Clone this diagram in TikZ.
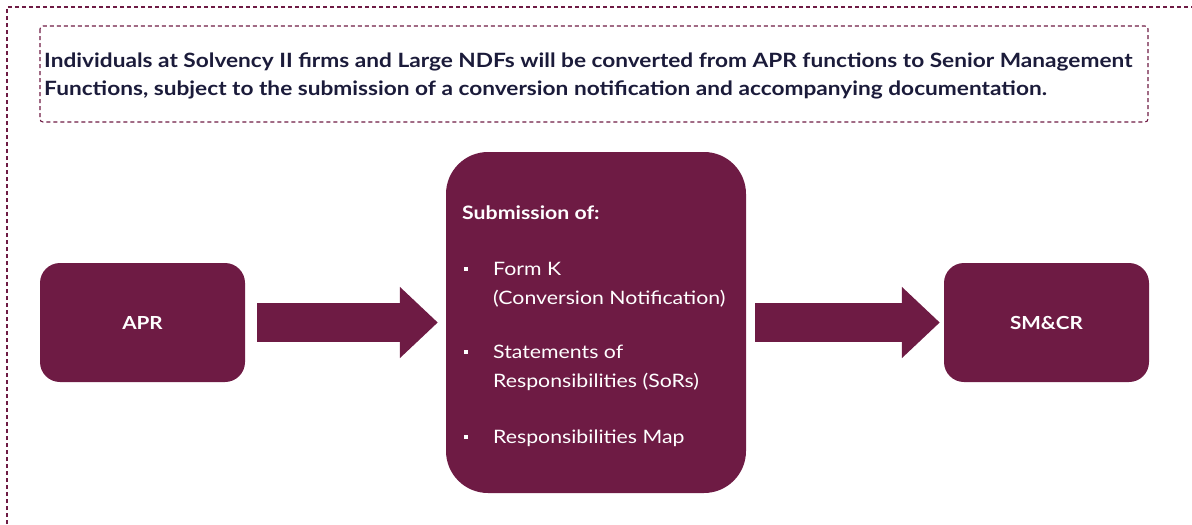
\documentclass[tikz,border=0pt]{standalone}
\usepackage{fontspec}
\setmainfont[FakeStretch=1.15]{Lato}
\usetikzlibrary{arrows.meta,positioning}
\definecolor{plum}{RGB}{110,27,68}
\definecolor{navy}{RGB}{27,27,58}
\tikzset{
  dashbox/.style={draw=plum, line width=1.1pt, dash pattern=on 4pt off 3pt},
  procbox/.style={fill=plum, draw=none, rounded corners=20pt, minimum width=205pt, minimum height=119pt, text=white, font=\fontsize{18}{22}\selectfont\bfseries, inner sep=0pt},
  bigarrow/.style={plum, line width=39pt, -{Triangle[length=38pt 0, width=69pt 0]}},
  itemtxt/.style={text=white, font=\fontsize{18.5}{22}\selectfont, anchor=base west, inner sep=0pt},
  bul/.style={fill=white, minimum size=4pt, inner sep=0pt}
}
\begin{document}
\begin{tikzpicture}[x=1pt,y=-1pt]
\useasboundingbox (0,0) rectangle (1192,525);
% outer dashed frame
\draw[dashbox] (7,545) -- (7,7) -- (1210,7);
% header box
\draw[dashbox, rounded corners=3pt] (40,26) rectangle (1148,122);
\node[anchor=base west, inner sep=0pt, text=navy, align=left, font=\fontsize{19.7}{28}\selectfont\bfseries] (hdr) at (44,95)
  {Individuals at Solvency II firms and Large NDFs will be converted from APR functions to Senior Management\\
   Functions, subject to the submission of a conversion notification and accompanying documentation.};
% boxes
\node[procbox] (apr) at (142.5,322.5) {APR};
\node[procbox] (smcr) at (1046.5,322.5) {SM\&CR};
\node[fill=plum, rounded corners=42pt, minimum width=300pt, minimum height=341pt, inner sep=0pt] (sub) at (596,322.5) {};
% contents of submission box
\node[itemtxt, font=\fontsize{18.5}{22}\selectfont\bfseries] (t0) at (462,219) {Submission of:};
\node[bul] (b1) at (466,269) {};
\node[itemtxt] (t1) at (493,275) {Form K};
\node[itemtxt] (t1b) at (493,304) {(Conversion Notification)};
\node[bul] (b2) at (466,352) {};
\node[itemtxt] (t2) at (493,358) {Statements of};
\node[itemtxt] (t2b) at (493,387) {Responsibilities (SoRs)};
\node[bul] (b3) at (466,437) {};
\node[itemtxt] (t3) at (493,443) {Responsibilities Map};
% arrows
\draw[bigarrow, shorten <=12pt, shorten >=8pt] (apr.east) -- (sub.west);
\draw[bigarrow, shorten <=9pt, shorten >=4pt] (sub.east) -- (smcr.west);
\end{tikzpicture}
\end{document}
